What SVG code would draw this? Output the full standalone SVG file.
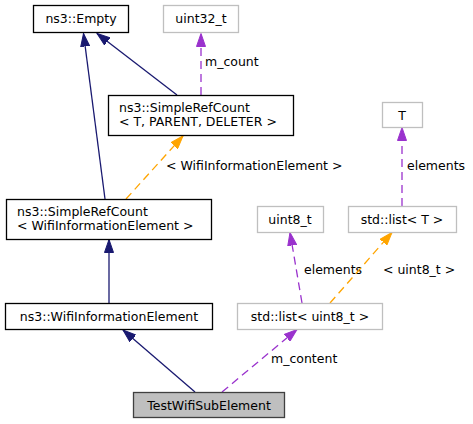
<svg xmlns="http://www.w3.org/2000/svg" width="473" height="424" viewBox="0 0 473 424">
<style>
text{font-family:"DejaVu Sans","Liberation Sans",sans-serif;font-size:12.5px;fill:#000}
.c{text-anchor:middle}
.n{fill:#fff;stroke:#000;stroke-width:1.3}
.g{fill:#fff;stroke:#bfbfbf;stroke-width:1.3}
.h{fill:#bfbfbf;stroke:#404040;stroke-width:1.3}
.inh{fill:none;stroke:#191970;stroke-width:1.3;marker-end:url(#aN)}
.use{fill:none;stroke:#9a32cd;stroke-width:1.3;stroke-dasharray:8,5;marker-end:url(#aP)}
.tpl{fill:none;stroke:#ffa500;stroke-width:1.3;stroke-dasharray:8,5;marker-end:url(#aO)}
</style>
<defs>
<marker id="aN" markerUnits="userSpaceOnUse" markerWidth="14" markerHeight="10" refX="13" refY="5" orient="auto"><path d="M0,0.5 L13,5 L0,9.5 z" fill="#191970" stroke="#191970"/></marker>
<marker id="aP" markerUnits="userSpaceOnUse" markerWidth="14" markerHeight="10" refX="13" refY="5" orient="auto"><path d="M0,0.5 L13,5 L0,9.5 z" fill="#9a32cd" stroke="#9a32cd"/></marker>
<marker id="aO" markerUnits="userSpaceOnUse" markerWidth="14" markerHeight="10" refX="13" refY="5" orient="auto"><path d="M0,0.5 L13,5 L0,9.5 z" fill="#ffa500" stroke="#ffa500"/></marker>
</defs>
<g id="edges">
<path class="inh" d="M105,199 L83.5,33.5"/>
<path class="inh" d="M177,95 L97,33.5"/>
<path class="use" d="M201,95 L201,33.5"/>
<text x="205" y="66">m_count</text>
<path class="tpl" d="M126,199 L183,136"/>
<text x="166" y="170">&lt; WifiInformationElement &gt;</text>
<path class="inh" d="M109,303 L109,239.5"/>
<path class="inh" d="M195,392 L123,330"/>
<path class="use" d="M222,392 L297,329.5"/>
<text x="271" y="363">m_content</text>
<path class="use" d="M302,303 L290,232.5"/>
<text x="304" y="274">elements</text>
<path class="tpl" d="M330,303 L392,232.5"/>
<text x="383" y="274">&lt; uint8_t &gt;</text>
<path class="use" d="M402,206 L402,127.5"/>
<text x="407" y="170">elements</text>
</g>
<g id="node-empty"><rect class="n" x="33.5" y="5.5" width="95" height="27"/><text class="c" x="81" y="23">ns3::Empty</text></g>
<g id="node-uint32"><rect class="g" x="163.5" y="5.5" width="75" height="27"/><text class="c" x="201" y="23">uint32_t</text></g>
<g id="node-srcT"><rect class="n" x="108.5" y="95.5" width="185" height="40"/><text x="119" y="111.5">ns3::SimpleRefCount</text><text x="119" y="125.5">&lt; T, PARENT, DELETER &gt;</text></g>
<g id="node-T"><rect class="g" x="382.5" y="102.5" width="40" height="25"/><text class="c" x="402" y="119.5">T</text></g>
<g id="node-srcWIE"><rect class="n" x="6.5" y="199.5" width="205" height="40"/><text x="17" y="215.5">ns3::SimpleRefCount</text><text x="17" y="229.5">&lt; WifiInformationElement &gt;</text></g>
<g id="node-uint8"><rect class="g" x="257.5" y="206.5" width="66" height="26"/><text class="c" x="290" y="223.5">uint8_t</text></g>
<g id="node-listT"><rect class="g" x="348.5" y="206.5" width="108" height="26"/><text class="c" x="402" y="223.5">std::list&lt; T &gt;</text></g>
<g id="node-wie"><rect class="n" x="5.5" y="303.5" width="207" height="26"/><text class="c" x="109" y="320.5">ns3::WifiInformationElement</text></g>
<g id="node-listu8"><rect class="g" x="237.5" y="303.5" width="145" height="26"/><text class="c" x="310" y="320.5">std::list&lt; uint8_t &gt;</text></g>
<g id="node-test"><rect class="h" x="133.5" y="392.5" width="151" height="25"/><text class="c" x="209" y="409.5">TestWifiSubElement</text></g>
</svg>
